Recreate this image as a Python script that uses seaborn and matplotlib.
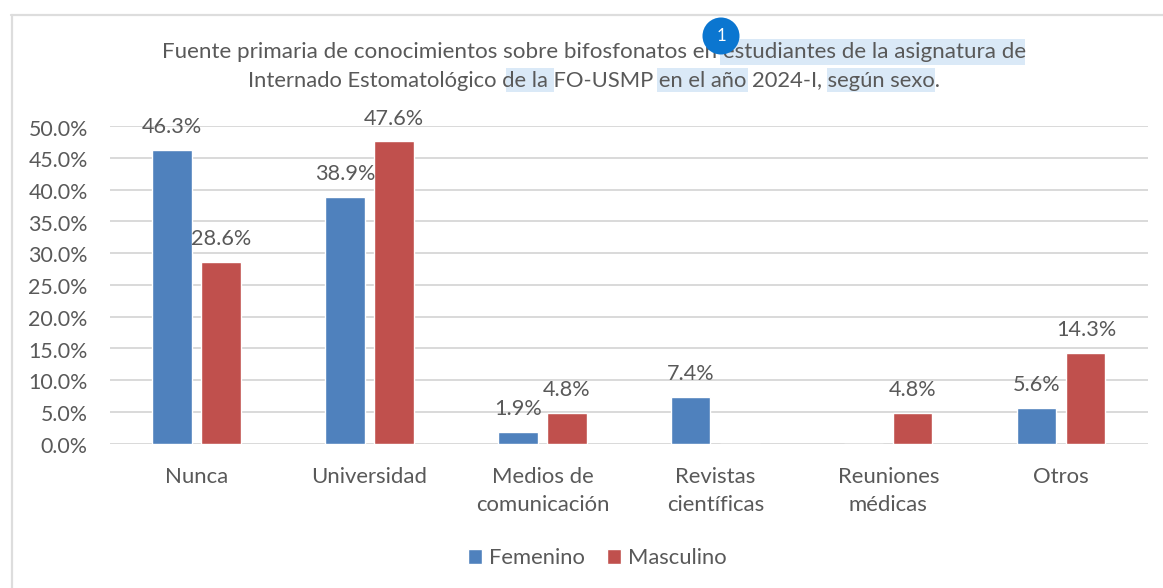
import numpy as np
import pandas as pd
import matplotlib
matplotlib.use("Agg")
import matplotlib.pyplot as plt
from matplotlib.patches import Rectangle, Ellipse
from matplotlib.lines import Line2D
from matplotlib.transforms import ScaledTranslation
import seaborn as sns

categories = ["Nunca", "Universidad", "Medios de\ncomunicación", "Revistas\ncientíficas", "Reuniones\nmédicas", "Otros"]
femenino = [46.3, 38.9, 1.9, 7.4, 0, 5.6]
masculino = [28.6, 47.6, 4.8, 0, 4.8, 14.3]
series_names = ["Femenino", "Masculino"]
y_ticks = [0, 5, 10, 15, 20, 25, 30, 35, 40, 45, 50]
title_lines = ["Fuente primaria de conocimientos sobre bifosfonatos en estudiantes de la asignatura de",
               "Internado Estomatológico de la FO-USMP en el año 2024-I, según sexo."]

W, H = 1163, 588
TXT = "#595959"
sns.set_theme(style="white")
plt.rcParams["font.family"] = ["Lato", "DejaVu Sans"]
FS = 15.8

df = pd.DataFrame({"Categoria": categories * 2,
                   "Sexo": [series_names[0]] * 6 + [series_names[1]] * 6,
                   "Valor": femenino + masculino})

fig = plt.figure(figsize=(W / 100, H / 100), dpi=100, facecolor="white")
ax = fig.add_axes([110 / W, 1 - 443.6 / H, (1147.8 - 110) / W, (443.6 - 126.2) / H])
ax.patch.set_alpha(0)
ax.set_zorder(2)

sns.barplot(data=df, x="Categoria", y="Valor", hue="Sexo", order=categories, hue_order=series_names,
            palette=["#4F81BD", "#C0504D"], width=0.567, gap=0.2, ax=ax, legend=False, saturation=1, errorbar=None)
ax.set_xlim(-0.5, 5.5)
ax.set_ylim(0, 50)
ax.set_yticks(y_ticks)
ax.set_yticklabels([f"{v:.1f}%" for v in y_ticks])
ax.set_xlabel("")
ax.set_ylabel("")
ax.tick_params(axis="both", length=0, labelcolor=TXT)
ax.tick_params(axis="y", pad=16, labelsize=15.4)
ax.tick_params(axis="x", pad=16.8, labelsize=15.9)
for t in ax.get_xticklabels():
    t.set_linespacing(1.5)
down = ScaledTranslation(0, -1.3 / 100, fig.dpi_scale_trans)
for t in ax.get_yticklabels():
    t.set_transform(t.get_transform() + down)
ax.grid(axis="y", color="#D9D9D9", lw=1.4)
ax.set_axisbelow(True)
for s in ax.spines.values():
    s.set_visible(False)

for cont, vals in zip(ax.containers, [femenino, masculino]):
    labels = ["" if v == 0 else f"{v:.1f}%" for v in vals]
    ax.bar_label(cont, labels=labels, padding=9.2, fontsize=15.6, color=TXT)

def px(x, y):
    return x / W, 1 - y / H

# frame of the chart
fig.add_artist(Line2D([11 / W, 1], [1 - 14.5 / H] * 2, color="#DDDDDD", lw=1.6))
fig.add_artist(Line2D([11.5 / W] * 2, [0, 1 - 14.5 / H], color="#DDDDDD", lw=1.6))

# text-selection highlights behind the title
for x0, x1, y0, y1 in [(720, 1025, 39, 65), (506, 554, 68, 92), (657, 748, 68, 92), (827, 935, 68, 92)]:
    fig.add_artist(Rectangle(px(x0, y1), (x1 - x0) / W, (y1 - y0) / H, transform=fig.transFigure,
                             facecolor="#DAE9F7", edgecolor="none", zorder=0))

fig.text(*px(594, 52), title_lines[0], ha="center", va="center", fontsize=16.1, color=TXT, zorder=3)
fig.text(*px(594.5, 81), title_lines[1], ha="center", va="center", fontsize=15.8, color=TXT, zorder=3)

# comment badge
r = 18.5
fig.add_artist(Ellipse(px(721, 36), 2 * r / W, 2 * r / H, transform=fig.transFigure,
                       facecolor="#0B76D0", edgecolor="none", zorder=4))
fig.text(*px(721, 36), "1", ha="center", va="center", fontsize=12, color="white", zorder=5)

# legend
handles = [Rectangle((0, 0), 1, 1, facecolor=c) for c in ["#4F81BD", "#C0504D"]]
fig.legend(handles, series_names, loc="center", bbox_to_anchor=px(597.5, 558), ncol=2, frameon=False,
           fontsize=FS, labelcolor=TXT, handlelength=0.64, handleheight=0.64, handletextpad=0.32,
           columnspacing=1.0, borderpad=0)

fig.savefig("out.png", dpi=100, facecolor="white")
